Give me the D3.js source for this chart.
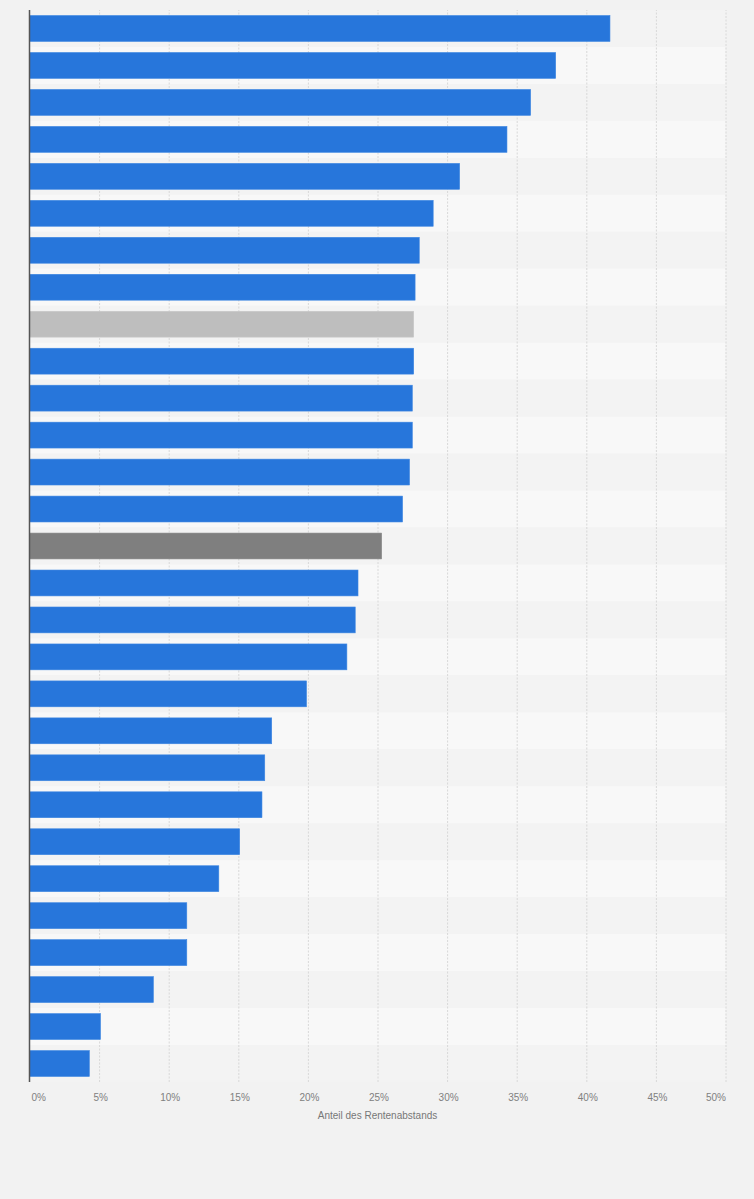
<!DOCTYPE html>
<html>
<head>
<meta charset="utf-8">
<script src="https://cdn.jsdelivr.net/npm/d3@7"></script>
<style>
  html, body { margin: 0; padding: 0; background: #f2f2f2; }
  svg { display: block; }
</style>
</head>
<body>
<svg id="chart" width="754" height="1199"></svg>
<script>
const categories = [
  "K1","K2","K3","K4","K5","K6","K7","K8","K9","K10",
  "K11","K12","K13","K14","K15","K16","K17","K18","K19","K20",
  "K21","K22","K23","K24","K25","K26","K27","K28","K29"
];
const values = [
  41.7, 37.8, 36.0, 34.3, 30.9, 29.0, 28.0, 27.7, 27.6, 27.6,
  27.5, 27.5, 27.3, 26.8, 25.3, 23.6, 23.4, 22.8, 19.9, 17.4,
  16.9, 16.7, 15.1, 13.6, 11.3, 11.3, 8.9, 5.1, 4.3
];
const tickValues = [0, 5, 10, 15, 20, 25, 30, 35, 40, 45, 50];
const tickLabels = ["0%","5%","10%","15%","20%","25%","30%","35%","40%","45%","50%"];
const axisTitle = "Anteil des Rentenabstands";
const lightHighlight = ["K9"];
const darkHighlight = ["K15"];

(function () {
const svg = d3.select("#chart");
const mLeft = 29.5, mRight = 725.5, mTop = 10, mBottom = 1082;

const x = d3.scaleLinear().domain([0, 50]).range([mLeft, mRight]);
const y = d3.scaleBand().domain(categories).range([mTop, mBottom]).paddingInner(0.3).paddingOuter(0.15);
const yRow = d3.scaleBand().domain(categories).range([mTop, mBottom]).padding(0);

// background stripes
svg.append("g").selectAll("rect").data(categories).join("rect")
  .attr("x", mLeft).attr("width", mRight - mLeft)
  .attr("y", d => yRow(d)).attr("height", yRow.bandwidth())
  .attr("fill", (d, i) => i % 2 === 0 ? "#f3f3f3" : "#f8f8f8");

// grid
const xAxisGrid = d3.axisBottom(x).tickValues(tickValues.slice(1)).tickSize(-(mBottom - mTop)).tickFormat("");
const grid = svg.append("g").attr("transform", `translate(0,${mBottom})`).call(xAxisGrid);
grid.select(".domain").remove();
grid.selectAll("line").attr("stroke", "#d8d8d8").attr("stroke-width", 1).attr("stroke-dasharray", "2,1.5");

// bars
svg.append("g").selectAll("rect").data(categories).join("rect")
  .attr("x", x(0))
  .attr("y", d => y(d))
  .attr("height", y.bandwidth())
  .attr("width", (d, i) => x(values[i]) - x(0))
  .attr("fill", d => lightHighlight.includes(d) ? "#bebebe" : darkHighlight.includes(d) ? "#7f7f7f" : "#2776db")
  .attr("stroke", d => lightHighlight.includes(d) ? "#c8c8c8" : darkHighlight.includes(d) ? "#8a8a8a" : "#3d86e2")
  .attr("stroke-width", 0.6);

// tick labels
const xAxis = d3.axisBottom(x).tickValues(tickValues).tickSize(0).tickPadding(0)
  .tickFormat((d, i) => tickLabels[i]);
const ax = svg.append("g").attr("transform", `translate(0,${mBottom + 19})`).call(xAxis);
ax.select(".domain").remove();
ax.selectAll("text")
  .attr("dy", 0)
  .attr("fill", "#808080")
  .style("font-family", "'Liberation Sans', Arial, sans-serif")
  .style("font-size", "10px")
  .attr("text-anchor", (d, i) => i === 0 ? "start" : i === tickValues.length - 1 ? "end" : "middle")
  .attr("dx", (d, i) => i === 0 ? 1.5 : i === tickValues.length - 1 ? 0 : 1);

// y axis line
svg.append("line")
  .attr("x1", x(0)).attr("x2", x(0))
  .attr("y1", mTop).attr("y2", mBottom)
  .attr("stroke", "#555").attr("stroke-width", 1.5);

// axis title
svg.append("text")
  .attr("x", (mLeft + mRight) / 2).attr("y", mBottom + 37)
  .attr("text-anchor", "middle")
  .attr("fill", "#777")
  .style("font-family", "'Liberation Sans', Arial, sans-serif")
  .style("font-size", "10px")
  .text(axisTitle);
})();
</script>
</body>
</html>
